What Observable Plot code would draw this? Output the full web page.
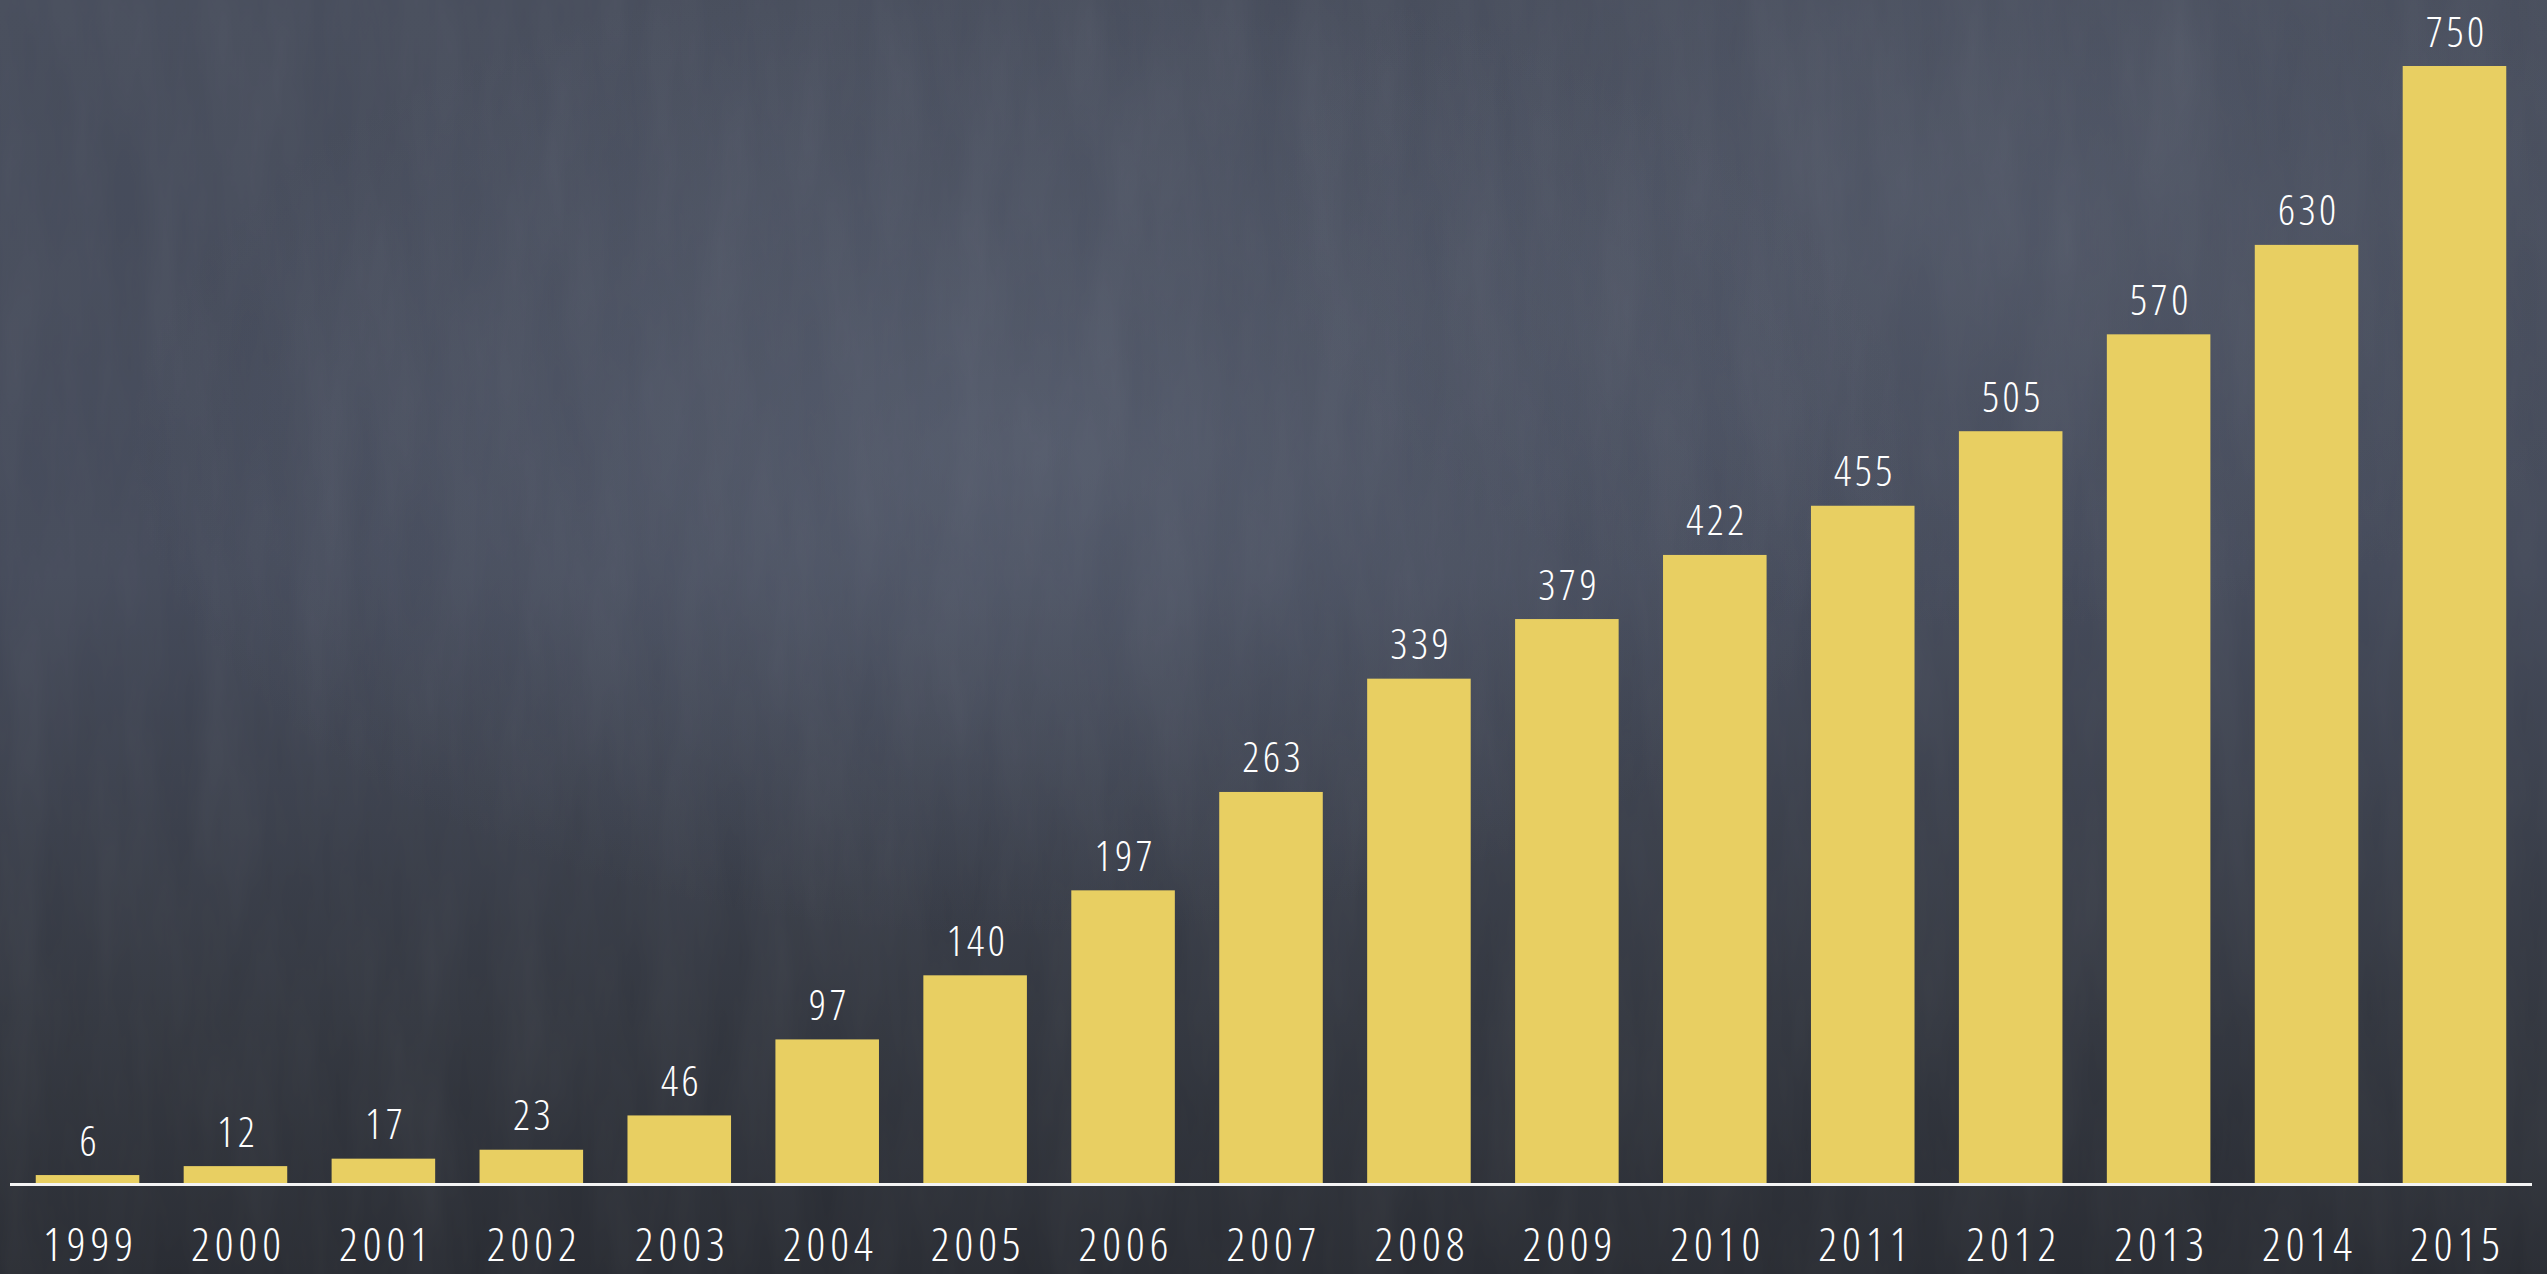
<!DOCTYPE html>
<html>
<head>
<meta charset="utf-8">
<script src="https://cdn.jsdelivr.net/npm/d3@7"></script>
<script src="https://cdn.jsdelivr.net/npm/@observablehq/plot@0.6"></script>
<style>
  html, body { margin: 0; padding: 0; }
  body {
    width: 2547px; height: 1274px; overflow: hidden;
    background:
      radial-gradient(ellipse 50% 55% at 40% 35%, rgba(98,106,124,0.5), rgba(98,106,124,0) 70%),
      radial-gradient(ellipse 40% 45% at 78% 18%, rgba(92,99,116,0.45), rgba(92,99,116,0) 70%),
      linear-gradient(180deg, #464c5b 0%, #434959 45%, #32363f 80%, #272a31 100%);
  }
  #chart { position: relative; }
  #chart svg { display: block; }
  #chart text { font-stretch: condensed; }
  #texture { position: absolute; left: 0; top: 0; pointer-events: none; opacity: 0.07; }
</style>
</head>
<body>
<div id="chart">
<svg id="texture" width="2547" height="1274">
  <filter id="chalk"><feTurbulence type="fractalNoise" baseFrequency="0.02 0.004" numOctaves="4" seed="3"/><feColorMatrix type="saturate" values="0"/></filter>
  <rect width="2547" height="1274" filter="url(#chalk)"/>
</svg>
</div>
<script>
const years = ["1999","2000","2001","2002","2003","2004","2005","2006","2007","2008","2009","2010","2011","2012","2013","2014","2015"];
const values = [6, 12, 17, 23, 46, 97, 140, 197, 263, 339, 379, 422, 455, 505, 570, 630, 750];

const data = years.map((y, i) => ({year: y, value: values[i]}));
const font = "'Open Sans', Roboto, sans-serif";

const chart = Plot.plot({
  width: 2547,
  height: 1274,
  marginLeft: 10,
  marginRight: 15,
  marginTop: 66,
  marginBottom: 90,
  style: {background: "transparent", fontFamily: font, color: "white", fontWeight: 300, position: "absolute", left: 0, top: 0},
  x: {domain: years, paddingInner: 0.3, paddingOuter: 0.174, round: false, label: null},
  y: {domain: [0, 750], axis: null},
  marks: [
    Plot.barY(data, {x: "year", y: "value", fill: "#e8cf62"}),
    Plot.ruleY([0], {stroke: "#f4f4f4", strokeWidth: 3}),
    Plot.text(data, {x: "year", y: "value", text: d => String(d.value), lineAnchor: "bottom", dy: -20, dx: 1.75, fill: "white", fontSize: 42, fontWeight: 300}),
    Plot.axisX({tickSize: 0, tickPadding: 44, fontSize: 46, fill: "white", fontWeight: 300, label: null, dx: 2.5})
  ]
});
chart.querySelectorAll("g[aria-label='x-axis tick label'] text").forEach(t => t.style.letterSpacing = "5px");
chart.querySelectorAll("g[aria-label='text'] text").forEach(t => t.style.letterSpacing = "3.5px");
document.getElementById("chart").appendChild(chart);
</script>
</body>
</html>
